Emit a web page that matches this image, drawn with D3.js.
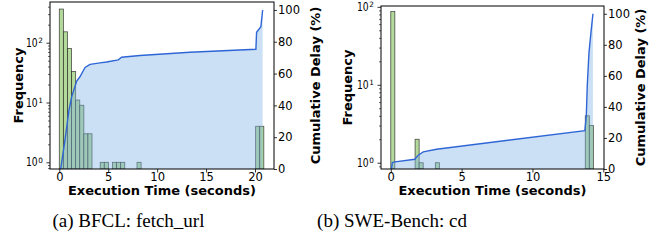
<!DOCTYPE html>
<html><head><meta charset="utf-8">
<script src="https://cdn.jsdelivr.net/npm/d3@7"></script>
<style>body{margin:0;background:#fff}svg{display:block}</style>
</head><body>
<svg id="c" width="655" height="245"></svg>
<script>
// ---------- data ----------
const captions = ["(a) BFCL: fetch_url", "(b) SWE-Bench: cd"];
const xTicksA = [0, 5, 10, 15, 20];
const xTicksB = [0, 5, 10, 15];
const yTicksRight = [0, 20, 40, 60, 80, 100];
const yTicksLog = [1, 10, 100];
// histogram: 50 bins over [0, histMax]
const histMaxA = 20.9;
const countsA = [365,152,80,33,11,9,3,3,0,0,1,1,0,1,1,1,0,0,0,1,
  0,0,0,0,0,0,0,0,0,0,0,0,0,0,0,0,0,0,0,0,0,0,0,0,0,0,0,0,4,4];
const histMaxB = 14.3;
const countsB = [87,0,0,0,0,0,2,1,0,0,0,1,
  0,0,0,0,0,0,0,0,0,0,0,0,0,0,0,0,0,0,0,0,0,0,0,0,0,0,0,0,0,0,0,0,0,0,0,0,4,3];
// cumulative delay curves (seconds, %)
const cumTimeA = [0.14,0.58,0.99,1.27,1.78,2.11,2.63,3.14,4.16,4.84,6.03,6.37,8.24,13.35,20.09,20.16,20.6,20.78];
const cumPctA  = [0,18.2,37.1,45.5,55.3,58,63.8,65.8,66.7,67.3,68.6,70.3,71.4,73.4,75.3,86,89.5,100];
const cumTimeB = [0.05,0.11,0.3,1.7,1.8,1.94,2.29,3.23,13.7,13.8,13.87,13.99,14.13,14.27];
const cumPctB  = [0,4.2,4.6,6.3,7.5,8.9,11,12.7,24.7,34,54,75,88,100];

// ---------- layout ----------
const panels = [
  {left:50, right:274, top:2, bottom:169, xDom:[-0.95,21.94], yDom:[0.773,479],
   counts:countsA, hmax:histMaxA, t:cumTimeA, p:cumPctA, xt:xTicksA,
   freqX:18, cumX:315, cap:captions[0], capX:128.5},
  {left:381, right:604, top:6, bottom:169, xDom:[-0.69,15.05], yDom:[0.831,102.5],
   counts:countsB, hmax:histMaxB, t:cumTimeB, p:cumPctB, xt:xTicksB,
   freqX:347.5, cumX:640, cap:captions[1], capX:392}
];

const svg = d3.select("#c");
const tickFont = "DejaVu Sans, sans-serif";
const fs = 11.5;

panels.forEach((P, pi) => {
  const x = d3.scaleLinear().domain(P.xDom).range([P.left, P.right]);
  const y = d3.scaleLog().domain(P.yDom).range([P.bottom, P.top]);
  const y2 = d3.scaleLinear().domain([0,105]).range([P.bottom, P.top]);
  const g = svg.append("g");
  const clipId = "clip"+pi;
  svg.append("clipPath").attr("id", clipId).append("rect")
    .attr("x", P.left).attr("y", P.top).attr("width", P.right-P.left).attr("height", P.bottom-P.top);
  const plot = g.append("g").attr("clip-path", `url(#${clipId})`);

  const bw = P.hmax / P.counts.length;
  const bins = P.counts.map((c,i)=>({x0:i*bw, x1:(i+1)*bw, c})).filter(d=>d.c>0);
  plot.selectAll("rect.bar").data(bins).join("rect").attr("class","bar")
    .attr("x", d=>x(d.x0)).attr("width", d=>x(d.x1)-x(d.x0))
    .attr("y", d=>y(d.c)).attr("height", d=>P.bottom - y(d.c))
    .attr("fill", "#b3d99b").attr("stroke", "#1a1a1a").attr("stroke-opacity", 0.75).attr("stroke-width", 0.8);

  const pts = P.t.map((t,i)=>[t, P.p[i]]);
  plot.append("path").datum(pts)
    .attr("d", d3.area().x(d=>x(d[0])).y0(y2(0)).y1(d=>y2(d[1])))
    .attr("fill", "#7fb2e5").attr("fill-opacity", 0.4);
  plot.append("path").datum(pts)
    .attr("d", d3.line().x(d=>x(d[0])).y(d=>y2(d[1])))
    .attr("fill", "none").attr("stroke", "#2f66d6").attr("stroke-width", 1.4);

  // spines
  g.append("rect").attr("x", P.left).attr("y", P.top).attr("width", P.right-P.left).attr("height", P.bottom-P.top)
    .attr("fill","none").attr("stroke","#000").attr("stroke-width",1);

  // x axis
  const ax = g.append("g").attr("transform", `translate(0,${P.bottom})`)
    .call(d3.axisBottom(x).tickValues(P.xt).tickSize(3.5).tickPadding(0).tickFormat(d3.format("d")));
  ax.select(".domain").remove();
  ax.selectAll("line").attr("stroke-width",0.8);
  ax.selectAll("text").attr("font-family", tickFont).attr("font-size", fs).attr("fill","#000");

  // right axis
  const ar = g.append("g").attr("transform", `translate(${P.right},0)`)
    .call(d3.axisRight(y2).tickValues(yTicksRight).tickSize(3).tickPadding(1).tickFormat(d3.format("d")));
  ar.select(".domain").remove();
  ar.selectAll("line").attr("stroke-width",0.8);
  ar.selectAll("text").attr("font-family", tickFont).attr("font-size", fs).attr("fill","#000");

  // left log axis: minor ticks
  const [lo, hi] = P.yDom;
  const minors = [];
  for (let e=-1; e<=3; e++) for (let m=2; m<=9; m++) { const v=m*Math.pow(10,e); if (v>=lo && v<=hi) minors.push(v); }
  const am = g.append("g").attr("transform", `translate(${P.left},0)`)
    .call(d3.axisLeft(y).tickValues(minors).tickSize(2).tickFormat(""));
  am.select(".domain").remove();
  am.selectAll("line").attr("stroke-width",0.6);
  const majors = yTicksLog.filter(v=>v>=lo&&v<=hi);
  const al = g.append("g").attr("transform", `translate(${P.left},0)`)
    .call(d3.axisLeft(y).tickValues(majors).tickSize(3.5).tickFormat(""));
  al.select(".domain").remove();
  al.selectAll("line").attr("stroke-width",0.8);
  majors.forEach(v=>{
    const e = Math.round(Math.log10(v));
    const ty = y(v);
    g.append("text").attr("x", P.left-11.8).attr("y", ty+0.3)
      .attr("text-anchor","start").attr("font-family", tickFont).attr("font-size", 7.3).attr("fill","#000")
      .text(String(e));
    g.append("g").attr("transform", `translate(${P.left-12.4},${ty+4.1}) scale(0.8,1)`)
      .append("text").attr("x", 0).attr("y", 0)
      .attr("text-anchor","end").attr("font-family", tickFont).attr("font-size", fs).attr("fill","#000")
      .text("10");
  });

  // labels
  const cy = (P.top+P.bottom)/2;
  g.append("text").attr("transform", `translate(${P.freqX},${cy}) rotate(-90)`)
    .attr("text-anchor","middle").attr("dominant-baseline","central")
    .attr("font-family", tickFont).attr("font-weight","bold").attr("font-size",13).text("Frequency");
  g.append("text").attr("transform", `translate(${P.cumX},${cy}) rotate(-90)`)
    .attr("text-anchor","middle").attr("dominant-baseline","central")
    .attr("font-family", tickFont).attr("font-weight","bold").attr("font-size",13).text("Cumulative Delay (%)");
  g.append("text").attr("x", (P.left+P.right)/2).attr("y", 195.3)
    .attr("text-anchor","middle").attr("font-family", tickFont).attr("font-weight","bold").attr("font-size",13)
    .text("Execution Time (seconds)");
  g.append("text").attr("x", P.capX).attr("y", 227)
    .attr("text-anchor","middle").attr("font-family","Liberation Serif, Times New Roman, serif").attr("font-size",19)
    .text(P.cap);
});
</script>
</body></html>
